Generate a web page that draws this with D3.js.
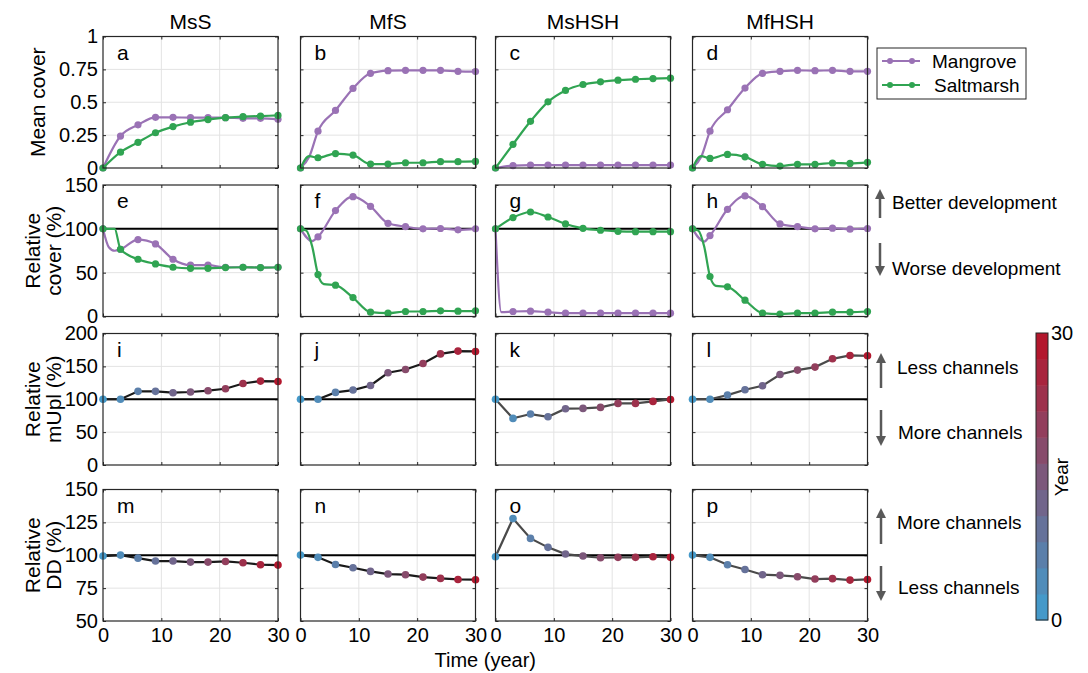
<!DOCTYPE html>
<html><head><meta charset="utf-8">
<script src="https://cdn.jsdelivr.net/npm/d3@7/dist/d3.min.js"></script>
<style>body{margin:0;background:#fff;} svg text{font-family:"Liberation Sans",Arial,sans-serif;fill:#000;}</style>
</head><body><svg id="c" width="1088" height="673"></svg>
<script>
// ---------- data ----------
const years = [0,3,6,9,12,15,18,21,24,27,30];
const colTitles = ["MsS","MfS","MsHSH","MfHSH"];
const panelLetters = [["a","b","c","d"],["e","f","g","h"],["i","j","k","l"],["m","n","o","p"]];
const rowLabels = [["Mean cover"],["Relative","cover (%)"],["Relative","mUpl (%)"],["Relative","DD (%)"]];
const rowYDomains = [[0,1],[0,150],[0,200],[50,150]];
const rowYTicks = [[0,0.25,0.5,0.75,1],[0,50,100,150],[0,50,100,150,200],[50,75,100,125,150]];
const xTicks = [0,10,20,30];
const seriesNames = ["Mangrove","Saltmarsh"];

const meanCoverMangrove = [
  [0,0.243,0.328,0.385,0.385,0.383,0.383,0.383,0.378,0.378,0.37],
  [0,0.28,0.438,0.605,0.72,0.74,0.743,0.743,0.743,0.735,0.733],
  [0,0.018,0.022,0.022,0.022,0.022,0.022,0.022,0.022,0.022,0.022],
  [0,0.28,0.443,0.608,0.72,0.735,0.743,0.74,0.743,0.735,0.735]
];
const meanCoverSaltmarsh = [
  [0,0.12,0.195,0.268,0.315,0.348,0.368,0.383,0.39,0.395,0.40],
  [0,0.078,0.11,0.098,0.03,0.03,0.04,0.04,0.048,0.048,0.05],
  [0,0.18,0.355,0.503,0.59,0.635,0.655,0.668,0.675,0.68,0.683],
  [0,0.073,0.103,0.085,0.028,0.015,0.028,0.028,0.038,0.035,0.043]
];
// extra (unmarked) points of the yearly curves between markers
const meanCoverMangroveExtra = [[],[[1.5,0.085]],[],[[1.5,0.085]]];
const meanCoverSaltmarshExtra = [[],[[1.5,0.09]],[],[[1.5,0.09]]];

const relCoverMangrove = [
  [100,76.7,87.7,82.8,65.3,58.5,58.5,56.2,56.2,55.8,56.2],
  [100,90.8,120.8,136.7,125.7,106.3,102.5,100,100.4,98.9,100],
  [100,5.7,6.1,4.9,3.8,3.8,3.8,3.8,3.8,3.8,3.8],
  [100,92.3,122.3,137.5,125.3,105.6,102.5,100,100.8,99.6,100.4]
];
const relCoverSaltmarsh = [
  [100,76.7,65.3,60,56.2,55,55,55.8,56.2,55.8,56.2],
  [100,47.8,35.7,21.6,4.9,3.8,5.7,5.7,6.5,6.1,6.5],
  [100,112.8,119.2,113.5,105.6,100.6,98.4,97.2,96.8,96.8,96.8],
  [100,45.6,33.8,18.6,3.8,2.7,3.8,3.8,4.9,4.9,5.7]
];
const relCoverMangroveExtra = [[[1,79],[2,75]],[[2,86]],[[1,5]],[[2,85.5]]];
const relCoverSaltmarshExtra = [[[2,100]],[[1,98],[2,80],[4,37]],[],[[1,98],[2,80],[4,35]]];

const relMUpl = [
  [100,100,112,112,110,111,113,116,124,127.6,127.1],
  [100,100,110.4,114,121,140.3,145.3,154.4,169,173.2,172.7],
  [100,70.9,77.5,73.4,85.6,86.1,87.6,93.7,93.7,96.7,99.7],
  [100,100,106.3,114.4,120.5,137.7,144.3,148.9,161.5,166.6,166.1]
];
const relDD = [
  [99.4,100.1,97.8,95.6,95.6,94.8,94.8,95.3,94.3,92.8,92.5],
  [100.1,98.4,93,90.5,87.7,85.7,85.2,83.4,82.4,81.6,81.4],
  [98.9,128,112.8,106,100.9,99.4,98.1,98.4,98.4,98.9,98.4],
  [100.1,98.4,92.8,89.2,85.2,84.7,83.7,81.9,82.2,81.1,81.6]
];
const referenceLine = 100;
const annotationTexts = [null,["Better development","Worse development"],["Less channels","More channels"],["More channels","Less channels"]];
const colorbarTicks = [0,30];
const colorbarLabel = "Year";
const xLabel = "Time (year)";

// ---------- styles / layout ----------
const mangroveColor = "#9a72b5";
const saltmarshColor = "#30a452";
const colorLow = "#4599c9", colorHigh = "#b3172d";
const yearColor = d3.scaleSequential(d3.interpolateRgb(colorLow, colorHigh)).domain([0,30]);

const colLeft = [103, 300.5, 495.5, 692.5];
const panelW = 175;
const rowTop = [36.5, 185, 333.5, 489.5];
const panelH = 131.5;
const font = 20;

const svg = d3.select("#c");
const x = d3.scaleLinear().domain([0,30]).range([0,panelW]);

for (let r = 0; r < 4; r++) {
  const y = d3.scaleLinear().domain(rowYDomains[r]).range([panelH,0]);
  for (let c = 0; c < 4; c++) {
    const g = svg.append("g").attr("transform", `translate(${colLeft[c]},${rowTop[r]})`);
    // grid
    g.selectAll(".gy").data(rowYTicks[r].slice(1,-1)).join("line")
      .attr("x1",0).attr("x2",panelW).attr("y1",d=>y(d)).attr("y2",d=>y(d))
      .attr("stroke","#e3e3e3").attr("stroke-width",1);
    g.selectAll(".gx").data(xTicks.slice(1,-1)).join("line")
      .attr("y1",0).attr("y2",panelH).attr("x1",d=>x(d)).attr("x2",d=>x(d))
      .attr("stroke","#e3e3e3").attr("stroke-width",1);
    // axes
    const ay = g.append("g").call(d3.axisLeft(y).tickValues(rowYTicks[r]).tickSize(-3).tickPadding(5).tickFormat(d=>String(d)));
    if (c > 0) ay.selectAll("text").remove();
    const ayr = g.append("g").attr("transform",`translate(${panelW},0)`).call(d3.axisRight(y).tickValues(rowYTicks[r]).tickSize(-3).tickFormat(""));
    const ax = g.append("g").attr("transform",`translate(0,${panelH})`).call(d3.axisBottom(x).tickValues(xTicks).tickSize(-3).tickPadding(7).tickFormat(d=>String(d)));
    if (r < 3) ax.selectAll("text").remove();
    const axt = g.append("g").call(d3.axisTop(x).tickValues(xTicks).tickSize(-3).tickFormat(""));
    [ay,ayr,ax,axt].forEach(a => {
      a.select(".domain").remove();
      a.selectAll("line").attr("stroke","#262626");
      a.selectAll("text").attr("font-size",font).attr("fill","#000").attr("font-family","Liberation Sans, Arial, sans-serif");
    });

    const clipId = `clip${r}${c}`;
    g.append("clipPath").attr("id",clipId).append("rect").attr("x",-6).attr("y",-6).attr("width",panelW+12).attr("height",panelH+12);
    const plot = g.append("g");

    if (r >= 1) {
      plot.append("line").attr("x1",0).attr("x2",panelW).attr("y1",y(referenceLine)).attr("y2",y(referenceLine))
        .attr("stroke","#000").attr("stroke-width",2);
    }

    if (r <= 1) {
      const mv = r === 0 ? meanCoverMangrove[c] : relCoverMangrove[c];
      const sv = r === 0 ? meanCoverSaltmarsh[c] : relCoverSaltmarsh[c];
      const me = r === 0 ? meanCoverMangroveExtra[c] : relCoverMangroveExtra[c];
      const se = r === 0 ? meanCoverSaltmarshExtra[c] : relCoverSaltmarshExtra[c];
      const series = [[mv,me,mangroveColor],[sv,se,saltmarshColor]];
      // draw mangrove first? in reference saltmarsh often on top in a; keep order
      series.forEach(([vals, extra, col]) => {
        const pts = years.map((t,i)=>[t,vals[i]]).concat(extra).sort((a,b)=>a[0]-b[0]);
        plot.append("path").datum(pts)
          .attr("d", d3.line().x(d=>x(d[0])).y(d=>y(d[1])).curve(d3.curveMonotoneX))
          .attr("fill","none").attr("stroke",col).attr("stroke-width",2.2);
        plot.selectAll(null).data(years.map((t,i)=>[t,vals[i]])).join("circle")
          .attr("cx",d=>x(d[0])).attr("cy",d=>y(d[1])).attr("r",3.6).attr("fill",col);
      });
    } else {
      const vals = r === 2 ? relMUpl[c] : relDD[c];
      const pts = years.map((t,i)=>[t,vals[i]]);
      plot.append("path").datum(pts)
        .attr("d", d3.line().x(d=>x(d[0])).y(d=>y(d[1])))
        .attr("fill","none").attr("stroke", c < 2 ? "#1a1a1a" : "#4a4a4a").attr("stroke-width",2.2);
      plot.selectAll(null).data(pts).join("circle")
        .attr("cx",d=>x(d[0])).attr("cy",d=>y(d[1])).attr("r",3.8).attr("fill",d=>yearColor(d[0]));
    }

    // frame
    g.append("rect").attr("width",panelW).attr("height",panelH).attr("fill","none").attr("stroke","#262626").attr("stroke-width",1.2);
    // letter
    g.append("text").attr("x",14).attr("y",23).attr("font-size",21).text(panelLetters[r][c]);
    if (r === 0) {
      svg.append("text").attr("x",colLeft[c]+panelW/2).attr("y",29).attr("text-anchor","middle").attr("font-size",21).text(colTitles[c]);
    }
  }
  // row label
  const lines = rowLabels[r];
  const cy = rowTop[r] + panelH/2;
  const baseXs = lines.length === 1 ? [45] : [40, 61];
  lines.forEach((t,i) => {
    svg.append("text").attr("transform",`translate(${baseXs[i]},${cy}) rotate(-90)`)
      .attr("text-anchor","middle").attr("font-size",21).text(t);
  });
}

// x label
svg.append("text").attr("x",(colLeft[0]+colLeft[3]+panelW)/2).attr("y",667).attr("text-anchor","middle").attr("font-size",20).text(xLabel);

// legend
const lg = svg.append("g").attr("transform","translate(877,48)");
lg.append("rect").attr("width",149).attr("height",51).attr("fill","#fff").attr("stroke","#262626").attr("stroke-width",1);
[[mangroveColor,13],[saltmarshColor,37]].forEach(([col,yy],i) => {
  lg.append("line").attr("x1",5).attr("x2",43).attr("y1",yy).attr("y2",yy).attr("stroke",col).attr("stroke-width",2.2);
  lg.append("circle").attr("cx",13).attr("cy",yy).attr("r",3).attr("fill",col);
  lg.append("circle").attr("cx",35).attr("cy",yy).attr("r",3).attr("fill",col);
  lg.append("text").attr("x",55+(i?2:0)).attr("y",yy).attr("dy","0.35em").attr("font-size",19).text(seriesNames[i]);
});

// annotations
const annLayout = [null,
  {ax:880, tx:892, upTip:4, upTail:33, upText:17, dnTail:58, dnTip:91, dnText:83},
  {ax:881, tx:897, upTip:19.5, upTail:54.5, upText:33.5, dnTail:76.5, dnTip:112.5, dnText:98.5},
  {ax:881, tx:897, upTip:18.5, upTail:54.5, upText:32.5, dnTail:76.5, dnTip:111.5, dnText:97.5}];
function arrow(xx, tail, tip) {
  const dir = tip < tail ? -1 : 1;
  svg.append("line").attr("x1",xx).attr("x2",xx).attr("y1",tail).attr("y2",tip - dir*8).attr("stroke","#595959").attr("stroke-width",2.5);
  svg.append("path").attr("d",`M${xx},${tip} L${xx-5},${tip-dir*10} L${xx+5},${tip-dir*10} Z`).attr("fill","#595959");
}
for (let r = 1; r < 4; r++) {
  const L = annLayout[r], t0 = rowTop[r];
  arrow(L.ax, t0+L.upTail, t0+L.upTip);
  arrow(L.ax, t0+L.dnTail, t0+L.dnTip);
  svg.append("text").attr("x",L.tx).attr("y",t0+L.upText).attr("dy","0.35em").attr("font-size",19).text(annotationTexts[r][0]);
  svg.append("text").attr("x",L.tx+(r>1?1:0)).attr("y",t0+L.dnText).attr("dy","0.35em").attr("font-size",19).text(annotationTexts[r][1]);
}

// colorbar
const cbX = 1036, cbW = 12;
const cbY = d3.scaleLinear().domain([0,30]).range([620,333]);
const nBands = years.length;
const bands = d3.range(nBands);
svg.append("g").selectAll("rect").data(bands).join("rect")
  .attr("x",cbX).attr("width",cbW)
  .attr("y",i=>cbY((i+1)*30/nBands)).attr("height",i=>cbY(i*30/nBands)-cbY((i+1)*30/nBands)+0.5)
  .attr("fill",i=>yearColor(years[i]));
svg.append("rect").attr("x",cbX).attr("y",333).attr("width",cbW).attr("height",287).attr("fill","none").attr("stroke","#262626").attr("stroke-width",1);
colorbarTicks.forEach(t => {
  svg.append("text").attr("x",cbX+cbW+3).attr("y",cbY(t)).attr("dy","0.35em").attr("font-size",20).text(String(t));
});
svg.append("text").attr("transform",`translate(1068,477) rotate(-90)`).attr("text-anchor","middle").attr("font-size",19).text(colorbarLabel);
</script></body></html>
